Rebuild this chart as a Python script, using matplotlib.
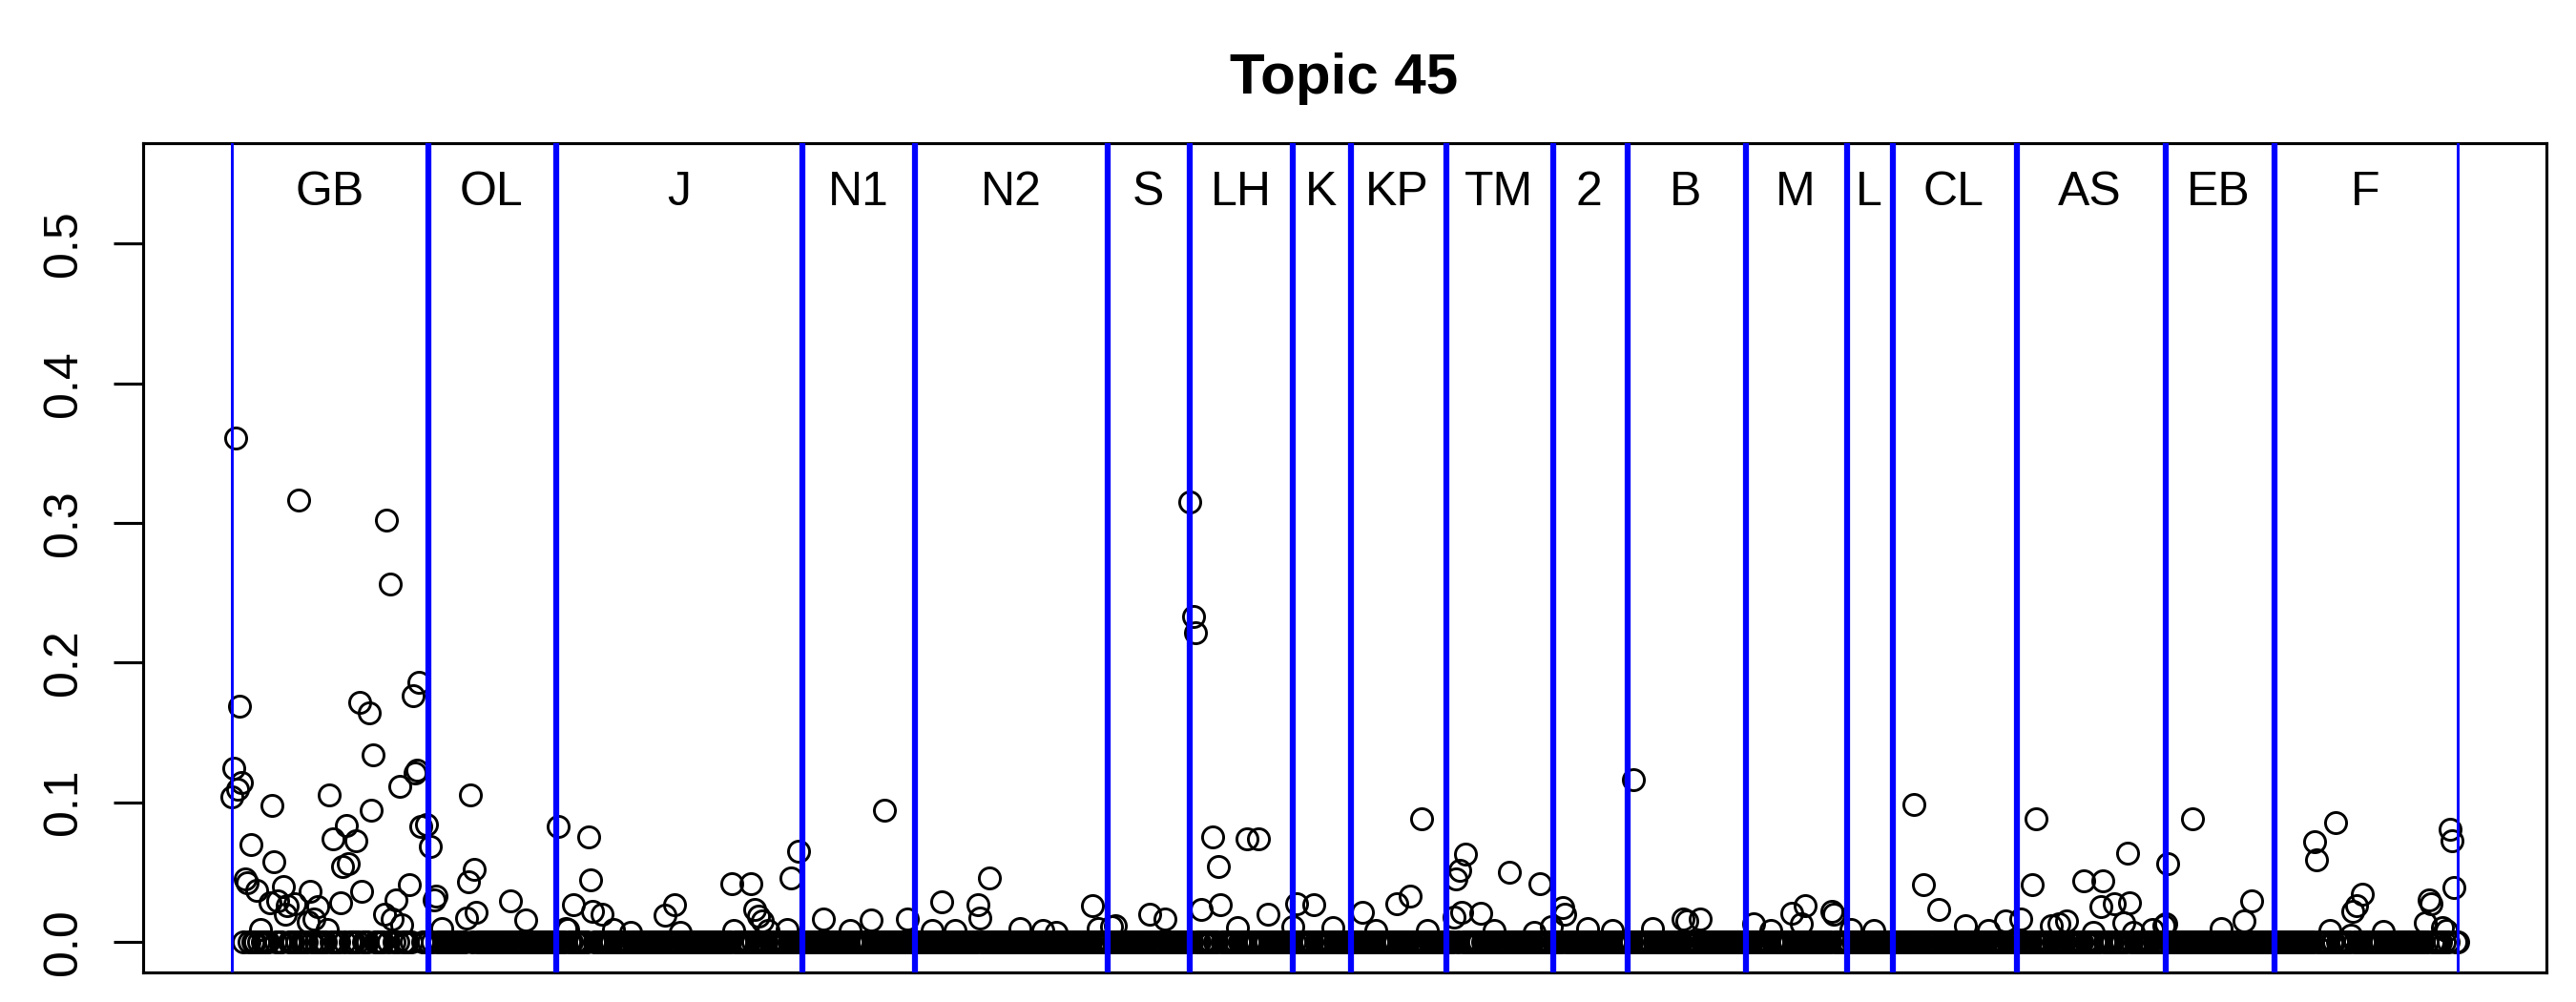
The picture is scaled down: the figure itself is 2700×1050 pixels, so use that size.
import numpy as np
import matplotlib
matplotlib.use("Agg")
import matplotlib.pyplot as plt

plt.rcParams["font.family"] = ["Liberation Sans", "DejaVu Sans"]

# groups along the x axis (label, number of documents)
group_labels = ["GB", "OL", "J", "N1", "N2", "S", "LH", "K", "KP", "TM",
                "2", "B", "M", "L", "CL", "AS", "EB", "F"]
group_sizes = [103, 67, 129, 59, 101, 43, 54, 30, 50, 56,
               39, 62, 53, 24, 65, 78, 57, 97]

# documents with a visible topic weight (1-based index, value); all others are 0
point_index = [
    1, 2, 3, 4, 5, 6, 8, 9, 11, 14, 16, 21, 22, 23, 25, 28, 29, 30, 34, 36,
    41, 42, 44, 46, 51, 52, 54, 58, 59, 61, 62, 66, 68, 69, 73, 74, 75, 81, 82, 84,
    85, 87, 89, 90, 94, 96, 97, 98, 99, 100, 103,
    105, 107, 108, 111, 124, 125, 126, 128, 129, 147, 155,
    172, 176, 177, 180, 188, 189, 190, 195, 201, 210, 228, 233, 236, 263, 264, 273,
    275, 277, 279, 282, 292, 294, 298,
    311, 325, 336, 343, 355,
    368, 373, 380, 392, 393, 398, 414, 426, 433, 452, 455,
    462, 464, 482, 490,
    503, 505, 506, 509, 515, 518, 519, 528, 533, 539, 544,
    557, 559, 568, 578,
    593, 600, 611, 618, 624, 627,
    641, 642, 644, 645, 647, 655, 662, 670, 683, 686, 692,
    698, 699, 711, 724,
    735, 745, 761, 763, 770,
    798, 807, 818, 823, 825, 839, 840,
    849, 861,
    882, 887, 895, 909, 921, 930,
    938, 944, 946, 954, 958, 962, 971, 976, 980, 981, 987, 992, 994, 995, 997, 1007, 1013,
    1014, 1015, 1028, 1043, 1055, 1059,
    1092, 1093, 1100, 1103, 1111, 1112, 1114, 1117, 1128, 1150, 1152, 1153, 1159, 1161,
    1163, 1164, 1165,
]
point_value = [
    0.1035, 0.124, 0.361, 0.109, 0.169, 0.114, 0.0447, 0.042, 0.0696, 0.0368, 0.009,
    0.028, 0.0975, 0.057, 0.029, 0.0395, 0.0199, 0.0256, 0.027, 0.3166,
    0.0145, 0.036, 0.016, 0.025, 0.009, 0.105, 0.074, 0.028, 0.054, 0.083, 0.0557,
    0.072, 0.1715, 0.036, 0.164, 0.094, 0.1336, 0.020, 0.302, 0.2565,
    0.016, 0.030, 0.111, 0.012, 0.041, 0.176, 0.121, 0.123, 0.186, 0.0826, 0.084,
    0.068, 0.030, 0.033, 0.0094, 0.017, 0.043, 0.105, 0.052, 0.021, 0.029, 0.0155,
    0.0826, 0.0095, 0.009, 0.0263, 0.0753, 0.044, 0.0217, 0.0195, 0.009, 0.007, 0.019,
    0.0263, 0.007, 0.0416, 0.008, 0.0416, 0.0229, 0.018, 0.0147, 0.008, 0.009, 0.046, 0.065,
    0.0165, 0.008, 0.0156, 0.094, 0.016,
    0.008, 0.0286, 0.008, 0.0263, 0.0172, 0.0457, 0.0097, 0.008, 0.007, 0.0256, 0.0095,
    0.011, 0.0115, 0.0198, 0.0163,
    0.315, 0.233, 0.2215, 0.0234, 0.0748, 0.054, 0.0265, 0.010, 0.0737, 0.074, 0.0198,
    0.011, 0.027, 0.0265, 0.010,
    0.021, 0.008, 0.027, 0.0325, 0.088, 0.008,
    0.0174, 0.045, 0.0514, 0.021, 0.0629, 0.0205, 0.008, 0.0497, 0.007, 0.0413, 0.011,
    0.0246, 0.0198, 0.0095, 0.008,
    0.116, 0.0092, 0.0165, 0.0147, 0.016,
    0.0126, 0.008, 0.0206, 0.0126, 0.0256, 0.0217, 0.0195,
    0.009, 0.008,
    0.098, 0.041, 0.0229, 0.0115, 0.008, 0.0149,
    0.016, 0.041, 0.0878, 0.0115, 0.0126, 0.0149, 0.0438, 0.007, 0.0252, 0.0434, 0.0274,
    0.0138, 0.0634, 0.028, 0.007, 0.009, 0.0115,
    0.0126, 0.056, 0.0883, 0.0096, 0.0149, 0.029,
    0.0714, 0.0586, 0.008, 0.0855, 0.005, 0.0217, 0.0256, 0.0343, 0.0075, 0.0137, 0.0297,
    0.0275, 0.010, 0.008, 0.0803, 0.0723, 0.0388,
]

n_docs = sum(group_sizes)
x = np.arange(1, n_docs + 1)
y = np.zeros(n_docs)
y[np.array(point_index) - 1] = point_value

starts = np.concatenate([[1], 1 + np.cumsum(group_sizes)[:-1]])
ends = np.cumsum(group_sizes)

fig = plt.figure(figsize=(9, 3.5), dpi=300)
ax = fig.add_axes([150 / 2700, 1 - 1019 / 1050, 2519 / 2700, 869 / 1050])

ax.plot(x, y, linestyle="none", marker="o", markersize=5.3,
        markerfacecolor="none", markeredgecolor="black", markeredgewidth=0.7, zorder=2)

# group separators: thin at both ends, thicker inside
ax.axvline(1, color="blue", lw=0.7, zorder=3)
ax.axvline(n_docs, color="blue", lw=0.7, zorder=3)
for s in starts[1:]:
    ax.axvline(s, color="blue", lw=1.5, zorder=3)

for lab, s, e in zip(group_labels, starts, ends):
    ax.text((s + e) / 2, 0.5275, lab, ha="center", va="baseline", fontsize=12)

pad = 0.04 * (n_docs - 1)
ax.set_xlim(1 - pad, n_docs + pad)
ax.set_ylim(-0.022, 0.572)
ax.set_xticks([])
ax.set_yticks([0, 0.1, 0.2, 0.3, 0.4, 0.5])
ax.set_yticklabels(["0.0", "0.1", "0.2", "0.3", "0.4", "0.5"], rotation=90, va="center")
ax.tick_params(axis="y", direction="out", length=7.4, width=0.75, labelsize=12, pad=7)
for sp in ax.spines.values():
    sp.set_linewidth(0.75)

fig.text(1409 / 2700, 1 - 98 / 1050, "Topic 45", ha="center", va="baseline",
         fontsize=14.4, fontweight="bold")

fig.savefig("out.png", dpi=300)
